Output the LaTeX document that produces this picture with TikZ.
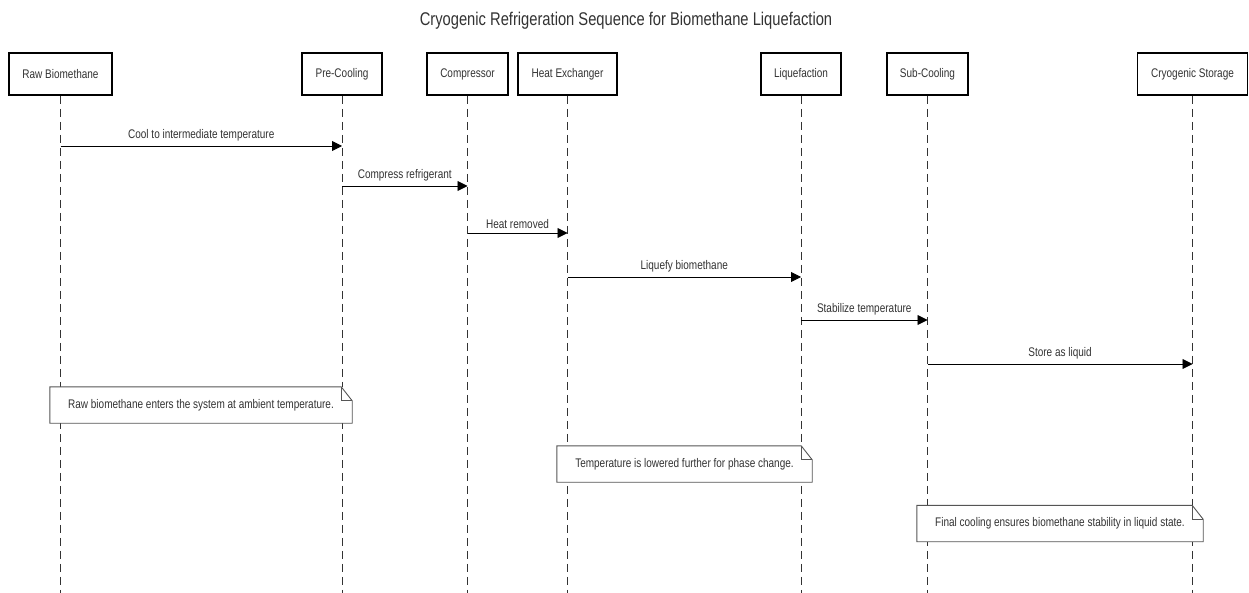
\documentclass[tikz,border=0pt]{standalone}
\usepackage{fontspec}
\setmainfont{Liberation Sans}[FakeStretch=0.8]
\usetikzlibrary{arrows.meta}
\definecolor{txt}{HTML}{333333}
\definecolor{notegray}{HTML}{555555}
\begin{document}
\begin{tikzpicture}[x=1pt,y=-1pt,
  part/.style={draw=black, line width=1.6pt, fill=white, minimum height=42pt, inner sep=0pt,
     text=txt, font=\fontsize{12.5}{14}\selectfont},
  life/.style={draw=black!80, line width=0.8pt, dash pattern=on 8pt off 5pt},
  msg/.style={draw=black, line width=0.9pt, -{Triangle[length=10pt,width=10pt]}},
  msglabel/.style={above=3pt, inner sep=1pt, text=txt, font=\fontsize{12.5}{14}\selectfont},
  notebox/.style={fill=white, inner sep=0pt, minimum height=36pt, text=txt,
     font=\fontsize{12.5}{14}\selectfont},
  noteline/.style={draw=notegray, line width=0.9pt, line join=miter}
]
\useasboundingbox (0,0) rectangle (1249,593);
\fill[white] (0,0) rectangle (1249,593);

\node[text=txt, font=\fontsize{18.4}{21}\selectfont] (title) at (626,21) {Cryogenic Refrigeration Sequence for Biomethane Liquefaction};

% participants
\node[part, minimum width=103pt] (raw) at (60.5,74) {Raw Biomethane};
\node[part, minimum width=80pt] (pre) at (342,74) {Pre-Cooling};
\node[part, minimum width=81pt] (comp) at (467.5,74) {Compressor};
\node[part, minimum width=99pt] (hx) at (567.5,74) {Heat Exchanger};
\node[part, minimum width=80pt] (liq) at (801,74) {Liquefaction};
\node[part, minimum width=81pt] (sub) at (927.5,74) {Sub-Cooling};
\node[part, minimum width=110pt] (cryo) at (1192.5,74) {Cryogenic Storage};

% lifeline ends
\coordinate (rawE) at (60.5,593);
\coordinate (preE) at (342,593);
\coordinate (compE) at (467.5,593);
\coordinate (hxE) at (567.5,593);
\coordinate (liqE) at (801,593);
\coordinate (subE) at (927.5,593);
\coordinate (cryoE) at (1192.5,593);

\draw[life] (raw.south) -- (rawE);
\draw[life] (pre.south) -- (preE);
\draw[life] (comp.south) -- (compE);
\draw[life] (hx.south) -- (hxE);
\draw[life] (liq.south) -- (liqE);
\draw[life] (sub.south) -- (subE);
\draw[life] (cryo.south) -- (cryoE);

% message endpoints
\coordinate (m1a) at (60.5,146); \coordinate (m1b) at (342,146);
\coordinate (m2a) at (342,186); \coordinate (m2b) at (467.5,186);
\coordinate (m3a) at (467.5,233); \coordinate (m3b) at (567.5,233);
\coordinate (m4a) at (567.5,277); \coordinate (m4b) at (801,277);
\coordinate (m5a) at (801,320); \coordinate (m5b) at (927.5,320);
\coordinate (m6a) at (927.5,364); \coordinate (m6b) at (1192.5,364);

\draw[msg] (m1a) -- node[msglabel] {Cool to intermediate temperature} (m1b);
\draw[msg] (m2a) -- node[msglabel] {Compress refrigerant} (m2b);
\draw[msg] (m3a) -- node[msglabel] {Heat removed} (m3b);
\draw[msg] (m4a) -- node[msglabel] {Liquefy biomethane} (m4b);
\draw[msg] (m5a) -- node[msglabel] {Stabilize temperature} (m5b);
\draw[msg] (m6a) -- node[msglabel] {Store as liquid} (m6b);

% notes
\node[notebox, minimum width=302pt] (n1) at (201,405) {Raw biomethane enters the system at ambient temperature.};
\node[notebox, minimum width=255pt] (n2) at (684.5,464) {Temperature is lowered further for phase change.};
\node[notebox, minimum width=286pt] (n3) at (1060,523.5) {Final cooling ensures biomethane stability in liquid state.};

\foreach \n in {n1,n2,n3}{
  \draw[noteline] (\n.south west) -- (\n.north west) -- ([xshift=-11pt]\n.north east)
     -- ([yshift=-14pt]\n.north east) -- (\n.south east) -- cycle;
  \draw[noteline] ([xshift=-11pt]\n.north east) -- ([xshift=-11pt,yshift=-14pt]\n.north east)
     -- ([yshift=-14pt]\n.north east);
}
\end{tikzpicture}
\end{document}
